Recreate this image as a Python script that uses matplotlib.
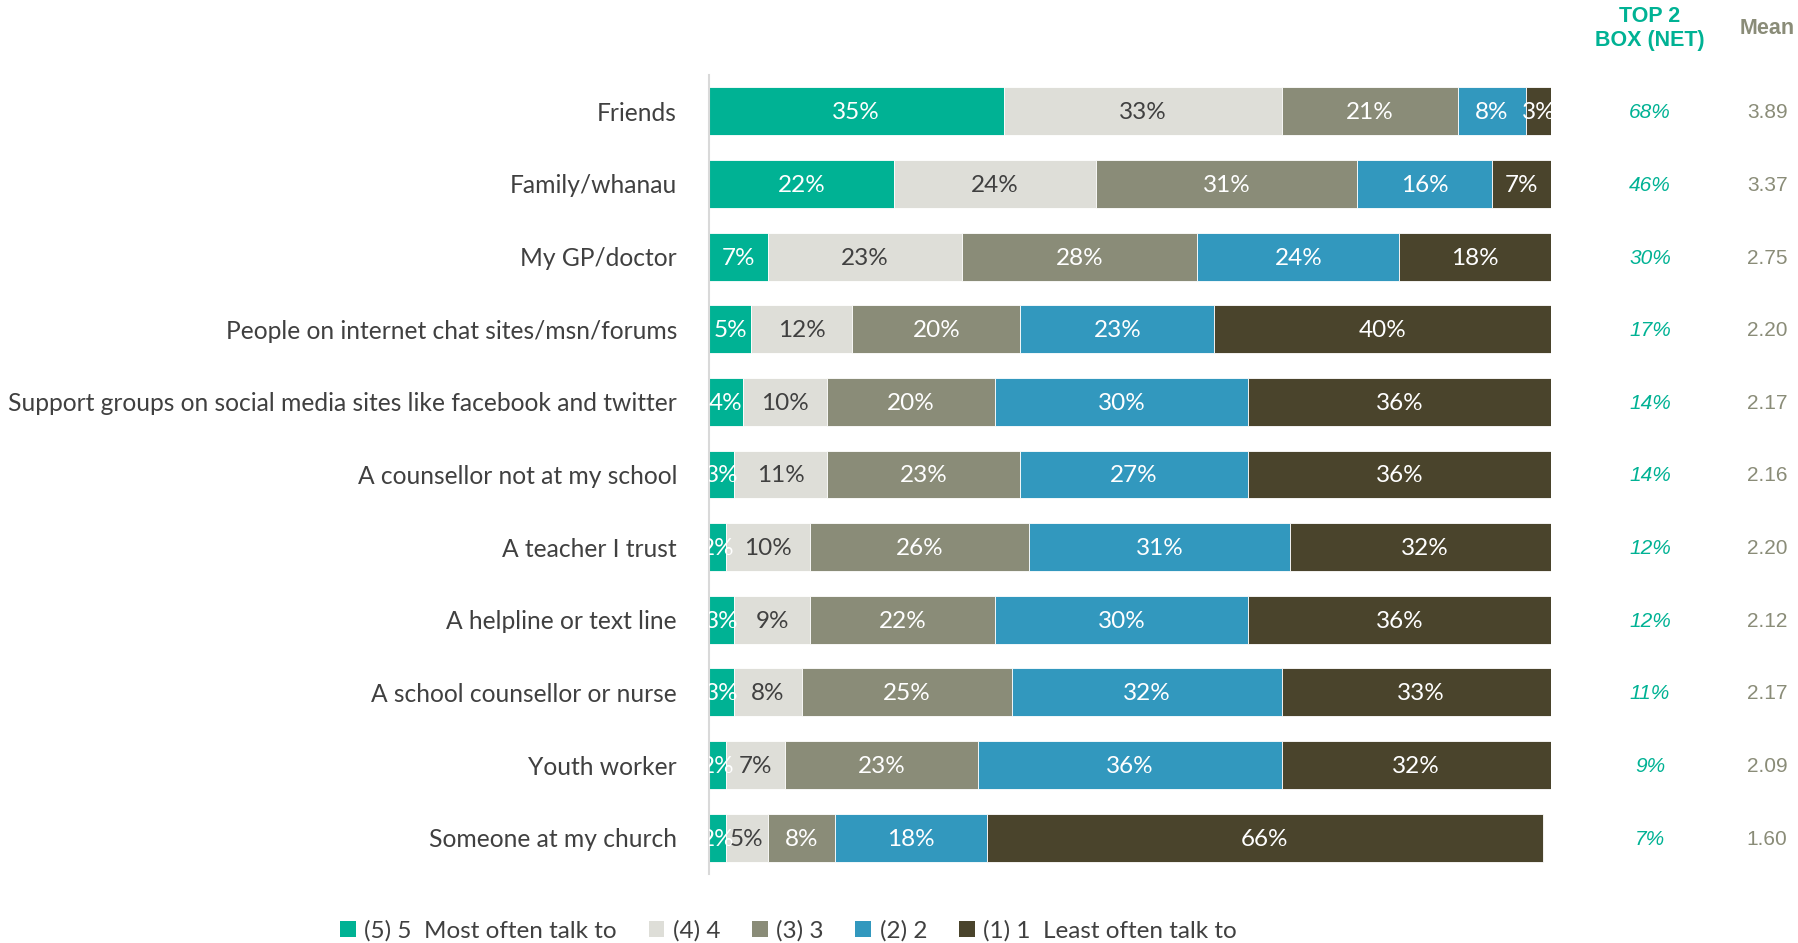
import matplotlib
matplotlib.use("Agg")
import matplotlib.pyplot as plt
from matplotlib.patches import Patch
from matplotlib.transforms import blended_transform_factory

plt.rcParams["font.family"] = ["Lato", "DejaVu Sans"]

categories = [
    "Friends",
    "Family/whanau",
    "My GP/doctor",
    "People on internet chat sites/msn/forums",
    "Support groups on social media sites like facebook and twitter",
    "A counsellor not at my school",
    "A teacher I trust",
    "A helpline or text line",
    "A school counsellor or nurse",
    "Youth worker",
    "Someone at my church",
]

series_names = [
    "(5) 5  Most often talk to",
    "(4) 4",
    "(3) 3",
    "(2) 2",
    "(1) 1  Least often talk to",
]

score5 = [35, 22, 7, 5, 4, 3, 2, 3, 3, 2, 2]
score4 = [33, 24, 23, 12, 10, 11, 10, 9, 8, 7, 5]
score3 = [21, 31, 28, 20, 20, 23, 26, 22, 25, 23, 8]
score2 = [8, 16, 24, 23, 30, 27, 31, 30, 32, 36, 18]
score1 = [3, 7, 18, 40, 36, 36, 32, 36, 33, 32, 66]

top2_net = ["68%", "46%", "30%", "17%", "14%", "14%", "12%", "12%", "11%", "9%", "7%"]
mean_score = ["3.89", "3.37", "2.75", "2.20", "2.17", "2.16", "2.20", "2.12", "2.17", "2.09", "1.60"]

colors = ["#00B294", "#DEDED8", "#8A8C78", "#3298BE", "#4A442C"]
text_colors = ["white", "#404040", "white", "white", "white"]

fig = plt.figure(figsize=(17.98, 9.43), dpi=100)
ax = fig.add_axes([0.3943, 0.0732, 0.4683, 0.8473])

series = [score5, score4, score3, score2, score1]
ypos = list(range(len(categories)))
left = [0.0] * len(categories)
for vals, col, tcol in zip(series, colors, text_colors):
    bars = ax.barh(ypos, vals, left=left, height=0.66, color=col,
                   edgecolor="white", linewidth=0.6)
    for rect, v in zip(bars, vals):
        ax.text(rect.get_x() + rect.get_width() / 2, rect.get_y() + rect.get_height() / 2 + 0.02,
                f"{v}%", ha="center", va="center", color=tcol, fontsize=17.5,
                clip_on=True)
    left = [l + v for l, v in zip(left, vals)]

ax.set_xlim(0, 100)
ax.set_ylim(10.5, -0.5)
ax.set_yticks(ypos)
ax.set_yticklabels(categories, fontsize=17.7, color="#404040")
ax.tick_params(axis="y", length=0, pad=23)
ax.set_xticks([])
for side in ["top", "right", "bottom"]:
    ax.spines[side].set_visible(False)
ax.spines["left"].set_color("#D9D9D9")
ax.spines["left"].set_linewidth(1.5)

trans = blended_transform_factory(fig.transFigure, ax.transData)
for i, (t2, m) in enumerate(zip(top2_net, mean_score)):
    ax.text(0.9177, i + 0.02, t2, transform=trans, ha="center", va="center",
            fontsize=15, style="italic", color="#00B294",
            family=["Liberation Sans", "DejaVu Sans"])
    ax.text(0.9828, i + 0.02, m, transform=trans, ha="center", va="center",
            fontsize=15, color="#8A8C78",
            family=["Liberation Sans", "DejaVu Sans"])

fig.text(0.9177, 0.970, "TOP 2\nBOX (NET)", ha="center", va="center",
         fontsize=15.5, fontweight="bold", color="#00B294", linespacing=1.2,
         family=["Liberation Sans", "DejaVu Sans"])
fig.text(0.9828, 0.970, "Mean", ha="center", va="center",
         fontsize=15.5, fontweight="bold", color="#8A8C78",
         family=["Liberation Sans", "DejaVu Sans"])

handles = [Patch(facecolor=c, edgecolor="none") for c in colors]
fig.legend(handles, series_names, loc="center", bbox_to_anchor=(0.4385, 0.013),
           ncol=5, frameon=False, fontsize=17.5, handlelength=0.65, handleheight=0.65,
           handletextpad=0.35, columnspacing=1.3, labelcolor="#404040")

fig.savefig("out.png", dpi=100)
